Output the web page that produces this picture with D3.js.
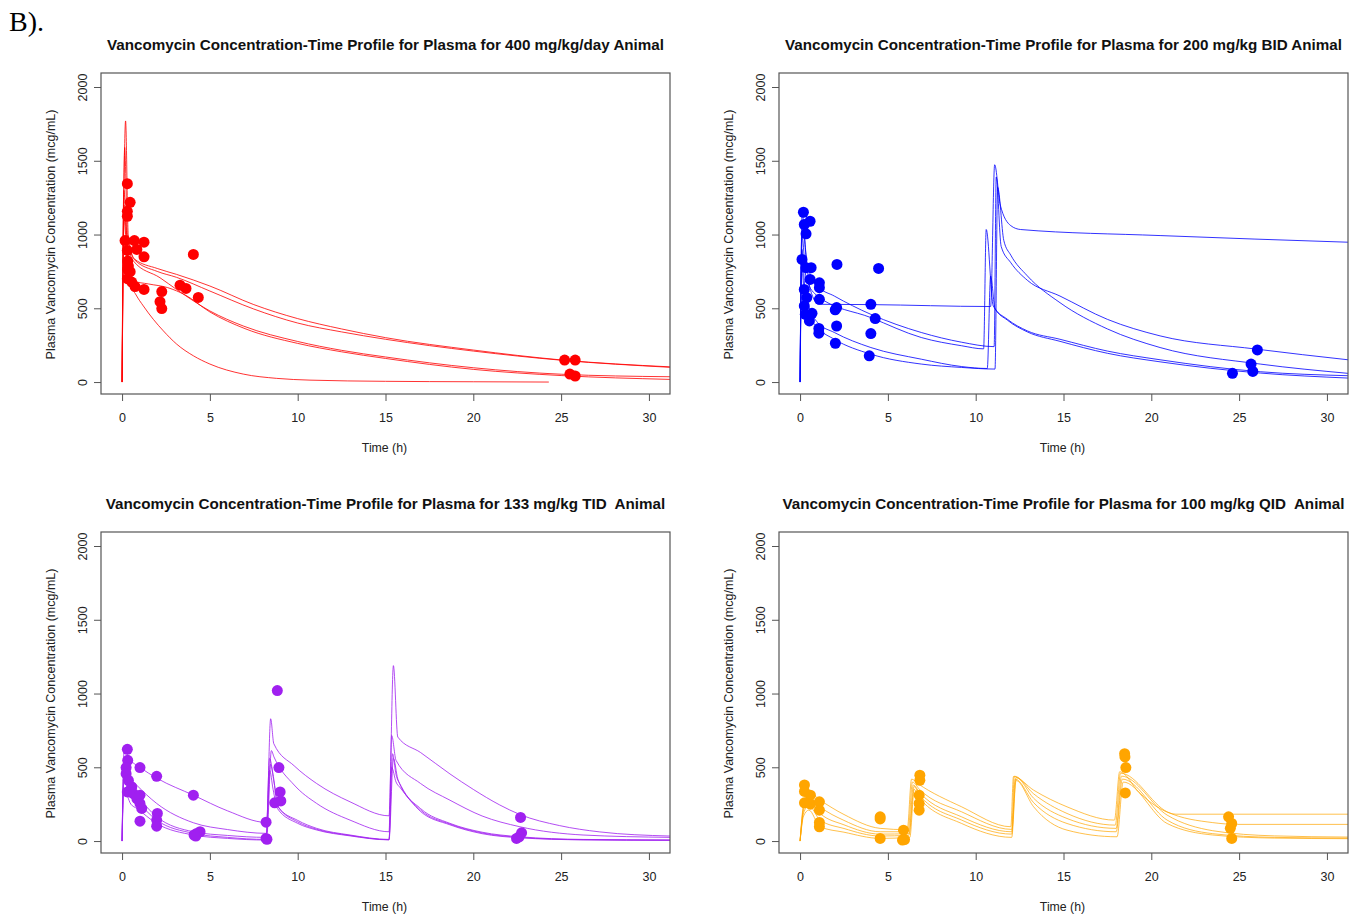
<!DOCTYPE html>
<html>
<head>
<meta charset="utf-8">
<script src="https://cdn.jsdelivr.net/npm/d3@7"></script>
<style>
body { margin: 0; background: #fff; }
svg text { font-family: "Liberation Sans", Arial, sans-serif; fill: #222; }
</style>
</head>
<body>
<svg id="chart" width="1360" height="914"></svg>
<script>
// ---- data ----
let timeTicks = [0, 5, 10, 15, 20, 25, 30];
let concTicks = [0, 500, 1000, 1500, 2000];

let titles = [
  'Vancomycin Concentration-Time Profile for Plasma for 400 mg/kg/day Animal',
  'Vancomycin Concentration-Time Profile for Plasma for 200 mg/kg BID Animal',
  'Vancomycin Concentration-Time Profile for Plasma for 133 mg/kg TID  Animal',
  'Vancomycin Concentration-Time Profile for Plasma for 100 mg/kg QID  Animal'
];

// 400 mg/kg/day (red)
let redObsT = [0.30, 0.46, 0.30, 0.30, 0.17, 0.70, 1.25, 0.30, 0.84, 1.25, 0.32, 0.36, 0.32, 0.46, 0.30, 0.55, 0.74, 1.25, 2.26, 2.16, 2.26, 3.30, 3.64, 4.34, 4.06, 25.2, 25.8, 25.5, 25.8];
let redObsC = [1345, 1218, 1157, 1124, 959, 959, 948, 892, 899, 849, 820, 786, 764, 748, 701, 678, 647, 628, 613, 545, 498, 657, 635, 574, 865, 149, 149, 54, 41];
let redCurves = [
  [[0, 0], [0.2, 1770], [0.35, 1000], [0.7, 835], [2, 770], [3.1, 730], [5, 651], [7.5, 525], [10, 430], [12.5, 360], [15, 301], [20, 217], [25, 150], [31.2, 103]],
  [[0, 0], [0.15, 1590], [0.3, 1000], [0.7, 830], [2, 750], [3.1, 710], [5, 617], [7.5, 495], [10, 400], [12.5, 340], [15, 290], [20, 210], [25, 148], [31.2, 100]],
  [[0, 0], [0.1, 1300], [0.3, 950], [0.65, 820], [2.16, 707], [3.1, 628], [5, 482], [6.9, 380], [10, 275], [12.5, 215], [15, 170], [20, 97], [25, 53], [31.2, 36]],
  [[0, 0], [0.1, 1200], [0.3, 900], [0.65, 685], [1.5, 665], [2.6, 640], [3.6, 590], [5, 475], [7, 362], [10, 262], [12.5, 205], [15, 160], [20, 86], [25, 44], [31.2, 18]],
  [[0, 0], [0.12, 1100], [0.3, 800], [0.46, 674], [0.8, 590], [1.21, 516], [1.78, 425], [2.35, 347], [3.11, 257], [4.06, 178], [5, 122], [6.9, 54], [8.8, 25], [10.7, 13], [15, 5], [20, 2], [24.3, 0]]
];

// 200 mg/kg BID (blue)
let blueObsT = [0.19, 0.57, 0.24, 0.34, 0.11, 0.34, 0.63, 2.10, 4.47, 0.57, 1.10, 1.10, 0.24, 0.38, 1.10, 4.03, 0.24, 2.08, 2.00, 4.28, 0.30, 0.68, 0.53, 2.08, 1.07, 1.07, 4.03, 2.01, 3.94, 26.04, 25.68, 25.78, 24.62];
let blueObsC = [1151, 1090, 1068, 1005, 831, 775, 775, 797, 770, 696, 673, 640, 628, 572, 561, 527, 516, 505, 490, 430, 459, 466, 414, 380, 363, 331, 329, 263, 178, 218, 122, 72, 59];
let blueCurves = [
  [[0, 0], [0.12, 1150], [0.3, 900], [0.6, 620], [1.08, 527], [4, 525], [10.85, 512], [11.08, 1473], [11.4, 1200], [12, 1060], [12.56, 1034], [20.5, 993], [31.2, 948]],
  [[0, 0], [0.15, 1090], [0.4, 800], [1.0, 651], [1.95, 583], [4.03, 459], [6.9, 336], [9.2, 270], [11.05, 240], [11.17, 1390], [11.45, 920], [12, 809], [12.94, 690], [14.8, 583], [17.5, 425], [20.5, 313], [26, 223], [31.2, 151]],
  [[0, 0], [0.1, 1000], [0.35, 700], [1.0, 583], [4.03, 437], [6.9, 302], [9.2, 246], [10.45, 225], [10.6, 1034], [11.0, 516], [11.8, 426], [12.94, 347], [14.8, 290], [17.5, 210], [20.5, 151], [26.2, 70], [31.2, 43]],
  [[0, 0], [0.1, 900], [0.3, 600], [1.0, 403], [1.95, 336], [4.03, 234], [6.9, 155], [9.2, 105], [10.66, 92], [10.85, 718], [11.1, 500], [11.8, 420], [12.94, 340], [14.8, 276], [17.5, 195], [20.5, 137], [26.2, 61], [31.2, 27]],
  [[0, 0], [0.08, 800], [0.3, 500], [1.0, 369], [1.95, 290], [4.03, 189], [6.9, 122], [9.2, 99], [11.1, 88], [11.25, 1320], [11.6, 960], [12, 860], [12.94, 720], [14.8, 538], [17.5, 360], [20.5, 234], [26.2, 122], [31.2, 59]]
];

// 133 mg/kg TID (purple)
let purpleObsT = [0.30, 0.32, 0.23, 1.02, 0.23, 1.97, 0.36, 0.55, 0.30, 0.64, 1.02, 0.84, 1.02, 1.12, 1.02, 2.01, 1.97, 1.97, 4.06, 4.25, 4.10, 4.44, 4.20, 8.20, 8.20, 8.25, 8.84, 8.93, 9.00, 8.69, 9.04, 22.69, 22.75, 22.61, 22.46];
let purpleObsC = [622, 547, 498, 498, 457, 439, 412, 367, 333, 322, 311, 288, 255, 221, 135, 187, 142, 101, 311, 52, 41, 63, 34, 128, 18, 12, 1020, 498, 333, 259, 272, 160, 56, 29, 18];
let purpleCurves = [
  [[0, 0], [0.12, 620], [0.4, 560], [1.02, 500], [2, 425], [4.06, 311], [6, 205], [8.23, 126], [8.46, 829], [8.64, 660], [9.8, 510], [11.08, 390], [12.98, 266], [15.2, 171], [15.45, 1189], [15.7, 705], [17, 600], [18.67, 455], [20, 350], [21.5, 245], [22.65, 180], [24.9, 105], [27.2, 62], [31.2, 34]],
  [[0, 0], [0.1, 500], [0.5, 420], [0.84, 378], [1.97, 255], [4.06, 124], [6, 78], [8.25, 52], [8.5, 613], [8.65, 570], [9.8, 380], [11.08, 255], [12.98, 142], [15.2, 63], [15.35, 716], [15.6, 547], [17, 390], [18.67, 277], [20.5, 170], [22.65, 97], [26.25, 41], [31.2, 25]],
  [[0, 0], [0.1, 450], [0.5, 330], [0.84, 299], [1.97, 164], [4.06, 63], [6, 38], [8.2, 25], [8.4, 560], [8.6, 450], [8.87, 232], [10, 140], [11.08, 86], [12.98, 41], [15.2, 11], [15.4, 592], [15.6, 450], [15.8, 390], [17, 220], [18.67, 120], [20.5, 60], [22.65, 29], [26.25, 11], [31.2, 7]],
  [[0, 0], [0.1, 400], [0.5, 300], [0.84, 266], [1.97, 142], [4.06, 52], [6, 25], [8.2, 11], [8.45, 520], [8.65, 400], [8.9, 232], [10, 130], [11.08, 80], [12.98, 38], [15.2, 9], [15.45, 560], [15.7, 420], [15.9, 370], [17, 210], [18.67, 115], [20.5, 55], [22.65, 25], [26.25, 9], [31.2, 6]],
  [[0, 0], [0.1, 350], [0.5, 250], [0.84, 221], [1.97, 119], [4.06, 41], [6, 18], [8.2, 7], [8.4, 480], [8.6, 350], [8.85, 220], [10, 120], [11.08, 75], [12.98, 35], [15.2, 8], [15.35, 500], [15.6, 400], [15.85, 360], [17, 200], [18.67, 110], [20.5, 50], [22.65, 22], [26.25, 8], [31.2, 5]]
];

// 100 mg/kg QID (orange)
let orangeObsT = [0.25, 0.25, 0.59, 0.25, 0.59, 1.10, 1.10, 1.10, 1.10, 4.56, 4.56, 4.56, 5.89, 5.83, 5.95, 6.82, 6.82, 6.78, 6.78, 6.78, 18.48, 18.50, 18.55, 18.52, 24.40, 24.58, 24.50, 24.58];
let orangeObsC = [380, 336, 311, 259, 250, 266, 209, 126, 97, 164, 150, 18, 74, 7, 10, 446, 412, 311, 255, 209, 592, 570, 498, 326, 164, 119, 86, 18];
let orangeCurves = [
  [[0, 0], [0.2, 250], [0.5, 330], [1.14, 277], [2.5, 180], [4.56, 86], [6.1, 77], [6.35, 420], [6.7, 390], [9.2, 232], [12.0, 97], [12.15, 437], [13.3, 345], [15.2, 232], [17.9, 142], [18.2, 470], [19.3, 330], [20.5, 220], [21.4, 182], [31.2, 182]],
  [[0, 0], [0.2, 230], [0.5, 300], [1.14, 232], [2.5, 140], [4.56, 63], [6.15, 63], [6.4, 400], [6.8, 350], [9.2, 198], [12.05, 79], [12.2, 440], [13.3, 320], [15.2, 187], [17.95, 108], [18.25, 460], [20.9, 198], [23.5, 125], [24.9, 113], [31.2, 113]],
  [[0, 0], [0.2, 210], [0.5, 270], [1.14, 187], [2.5, 110], [4.56, 47], [6.2, 50], [6.45, 380], [6.8, 330], [9.2, 164], [12.05, 63], [12.3, 430], [13.3, 290], [15.2, 153], [18.0, 86], [18.3, 440], [20.9, 176], [23.5, 70], [27, 35], [31.2, 27]],
  [[0, 0], [0.2, 190], [0.5, 240], [1.14, 142], [2.5, 85], [4.56, 34], [6.2, 40], [6.5, 370], [6.8, 310], [9.2, 142], [12.05, 47], [12.25, 420], [13.3, 260], [15.2, 119], [18.0, 63], [18.35, 420], [20.9, 142], [23.5, 50], [27, 25], [31.2, 20]],
  [[0, 0], [0.2, 170], [0.5, 210], [1.14, 97], [2.5, 60], [4.56, 18], [6.25, 25], [6.5, 350], [6.8, 290], [9.2, 119], [12.05, 25], [12.3, 410], [13.3, 232], [15.2, 74], [18.05, 29], [18.4, 400], [20.9, 119], [23.5, 41], [27, 20], [31.2, 16]]
];

// ---- layout ----
let plotW = 569;
let plotH = 321;

let panels = [
  { left: 101, top: 73,  color: '#ff0000', obsT: redObsT,    obsC: redObsC,    curves: redCurves },
  { left: 779, top: 73,  color: '#0000ff', obsT: blueObsT,   obsC: blueObsC,   curves: blueCurves },
  { left: 101, top: 532, color: '#a020f0', obsT: purpleObsT, obsC: purpleObsC, curves: purpleCurves },
  { left: 779, top: 532, color: '#ffa500', obsT: orangeObsT, obsC: orangeObsC, curves: orangeCurves }
];

let svg = d3.select('#chart');

svg.append('text')
  .attr('x', 9)
  .attr('y', 31)
  .style('font-family', '"Liberation Serif", "DejaVu Serif", serif')
  .style('font-size', '28px')
  .style('fill', '#000')
  .text('B).');

panels.forEach((p, i) => {
  let x = d3.scaleLinear().domain([-1.2, 31.2]).range([p.left, p.left + plotW]);
  let y = d3.scaleLinear().domain([-81, 2095]).range([p.top + plotH, p.top]);
  let g = svg.append('g');

  // title
  g.append('text')
    .attr('x', p.left + plotW / 2)
    .attr('y', p.top - 23)
    .style('text-anchor', 'middle')
    .style('white-space', 'pre')
    .style('font-weight', 'bold')
    .style('font-size', '15.2px')
    .style('fill', '#111')
    .text(titles[i]);

  // x axis
  let xAxis = g.append('g')
    .attr('transform', `translate(0, ${p.top + plotH})`)
    .call(d3.axisBottom(x).tickValues(timeTicks).tickSize(7).tickPadding(12));
  xAxis.select('.domain').remove();
  xAxis.selectAll('line').attr('stroke', '#555');
  xAxis.selectAll('text').style('font-size', '12.5px').style('font-family', '"Liberation Sans", Arial, sans-serif').attr('fill', '#222');

  // y axis (rotated labels as in base R)
  let yAxis = g.append('g')
    .attr('transform', `translate(${p.left}, 0)`)
    .call(d3.axisLeft(y).tickValues(concTicks).tickSize(7).tickFormat(d3.format('d')));
  yAxis.select('.domain').remove();
  yAxis.selectAll('line').attr('stroke', '#555');
  yAxis.selectAll('text')
    .attr('x', 0)
    .attr('y', -14)
    .attr('dy', 0)
    .attr('transform', 'rotate(-90)')
    .style('text-anchor', 'middle')
    .style('font-size', '12.5px')
    .style('font-family', '"Liberation Sans", Arial, sans-serif')
    .attr('fill', '#222');

  // axis titles
  g.append('text')
    .attr('x', p.left + plotW / 2 - 1)
    .attr('y', p.top + plotH + 58)
    .style('text-anchor', 'middle')
    .style('font-size', '12.3px')
    .text('Time (h)');

  g.append('text')
    .attr('transform', `translate(${p.left - 46}, ${p.top + plotH / 2 + 1}) rotate(-90)`)
    .style('text-anchor', 'middle')
    .style('font-size', '12.5px')
    .text('Plasma Vancomycin Concentration (mcg/mL)');

  // clip to plot region
  let clipId = 'clip' + i;
  svg.append('clipPath').attr('id', clipId)
    .append('rect')
    .attr('x', p.left).attr('y', p.top)
    .attr('width', plotW).attr('height', plotH);

  let line = d3.line()
    .x(d => x(d[0]))
    .y(d => y(d[1]))
    .curve(d3.curveMonotoneX);

  let plot = g.append('g').attr('clip-path', `url(#${clipId})`);

  plot.selectAll('.curve')
    .data(p.curves)
    .enter()
    .append('path')
      .attr('class', 'curve')
      .attr('d', line)
      .attr('fill', 'none')
      .attr('stroke', p.color)
      .attr('stroke-opacity', i === 3 ? 0.7 : 0.8)
      .attr('stroke-width', 1);

  plot.selectAll('.obs')
    .data(p.obsT.map((t, k) => [t, p.obsC[k]]))
    .enter()
    .append('circle')
      .attr('class', 'obs')
      .attr('cx', d => x(d[0]))
      .attr('cy', d => y(d[1]))
      .attr('r', 5.5)
      .attr('fill', p.color);

  // box
  g.append('rect')
    .attr('x', p.left)
    .attr('y', p.top)
    .attr('width', plotW)
    .attr('height', plotH)
    .attr('fill', 'none')
    .attr('stroke', '#555')
    .attr('stroke-width', 1.2);
});
</script>
</body>
</html>
